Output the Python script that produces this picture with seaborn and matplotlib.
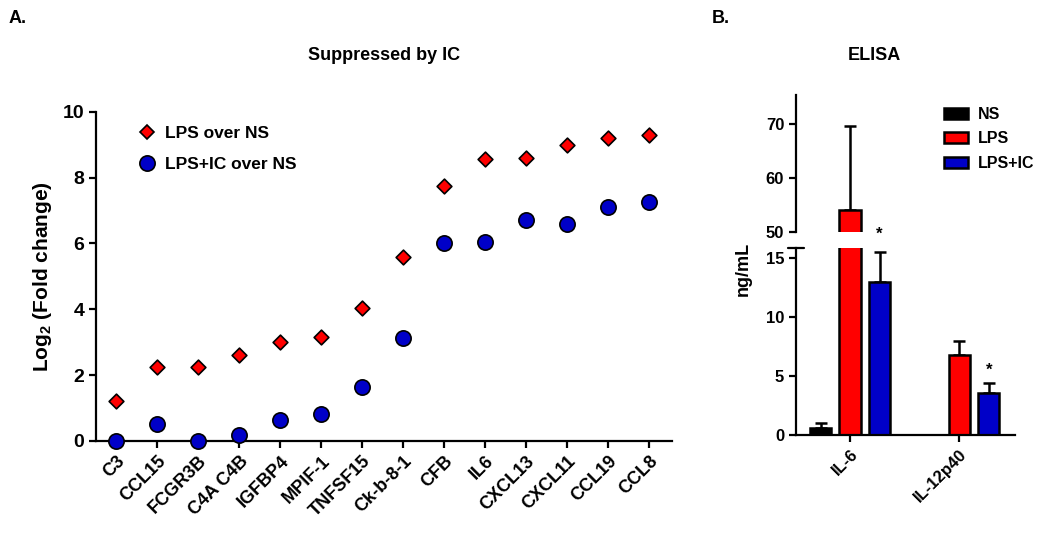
import numpy as np
import pandas as pd
import matplotlib
matplotlib.use('Agg')
import matplotlib.pyplot as plt
from matplotlib.lines import Line2D
from matplotlib.patches import Patch
import seaborn as sns

# -------------------------
# Datos
# -------------------------
genes = ['C3', 'CCL15', 'FCGR3B', 'C4A C4B', 'IGFBP4', 'MPIF-1', 'TNFSF15',
         'Ck-b-8-1', 'CFB', 'IL6', 'CXCL13', 'CXCL11', 'CCL19', 'CCL8']
lps_over_ns    = [1.2, 2.25, 2.25, 2.6, 3.0, 3.15, 4.05, 5.58, 7.75, 8.55, 8.58, 9.0, 9.2, 9.3]
lpsic_over_ns  = [0.0, 0.52, 0.0, 0.17, 0.62, 0.82, 1.65, 3.12, 6.02, 6.05, 6.72, 6.6, 7.12, 7.25]

cytokines   = ['IL-6', 'IL-12p40']
groups      = ['NS', 'LPS', 'LPS+IC']
elisa_ns    = [0.6, 0.0]
elisa_lps   = [54.0, 6.8]
elisa_lpsic = [13.0, 3.6]
sd_ns       = [0.4, 0.0]
sd_lps      = [15.7, 1.2]
sd_lpsic    = [2.5, 0.8]

RED  = '#FF0000'
BLUE = '#0000C8'

# -------------------------
# Estilo
# -------------------------
sns.set_style('ticks')
plt.rcParams['font.family'] = ['Liberation Sans', 'DejaVu Sans']
plt.rcParams['font.weight'] = 'bold'
plt.rcParams['axes.labelweight'] = 'bold'
plt.rcParams['text.color'] = 'black'
plt.rcParams['axes.labelcolor'] = 'black'
plt.rcParams['axes.edgecolor'] = 'black'
plt.rcParams['xtick.color'] = 'black'
plt.rcParams['ytick.color'] = 'black'
plt.rcParams['mathtext.fontset'] = 'custom'
plt.rcParams['mathtext.rm'] = 'Liberation Sans'
plt.rcParams['mathtext.bf'] = 'Liberation Sans:bold'

fig = plt.figure(figsize=(10.43, 5.37), dpi=100)

def style_axis(ax, fs):
    for s in ['top', 'right']:
        ax.spines[s].set_visible(False)
    for s in ['left', 'bottom']:
        ax.spines[s].set_linewidth(1.6)
        ax.spines[s].set_color('black')
    ax.tick_params(width=1.6, length=5, labelsize=fs, direction='out', colors='black')
    for lab in ax.get_xticklabels() + ax.get_yticklabels():
        lab.set_fontweight('bold')

# -------------------------
# Panel A
# -------------------------
df_a = pd.DataFrame({
    'gene': genes * 2,
    'value': lps_over_ns + lpsic_over_ns,
    'serie': ['LPS over NS'] * len(genes) + ['LPS+IC over NS'] * len(genes),
})

axA = fig.add_axes([0.092, 0.179, 0.552, 0.613])
sns.stripplot(data=df_a[df_a['serie'] == 'LPS+IC over NS'], x='gene', y='value',
              order=genes, jitter=False, marker='o', size=11, color=BLUE,
              edgecolor='black', linewidth=1.2, ax=axA, zorder=3)
sns.stripplot(data=df_a[df_a['serie'] == 'LPS over NS'], x='gene', y='value',
              order=genes, jitter=False, marker='D', size=7.5, color=RED,
              edgecolor='black', linewidth=1.2, ax=axA, zorder=4)
for c in axA.collections:
    c.set_clip_on(False)

axA.set_xlim(-0.5, 13.55)
axA.set_ylim(0, 10)
axA.set_yticks([0, 2, 4, 6, 8, 10])
axA.set_xlabel('')
axA.set_ylabel(r'Log$_\mathbf{2}$ (Fold change)', fontsize=15, fontweight='bold', labelpad=6)
style_axis(axA, 14)
axA.tick_params(axis='x', labelsize=13)
plt.setp(axA.get_xticklabels(), rotation=45, ha='right', rotation_mode='anchor')

hA = [Line2D([], [], marker='D', ls='none', markersize=7.5, markerfacecolor=RED,
             markeredgecolor='black', markeredgewidth=1.2),
      Line2D([], [], marker='o', ls='none', markersize=11, markerfacecolor=BLUE,
             markeredgecolor='black', markeredgewidth=1.2)]
axA.legend(hA, ['LPS over NS', 'LPS+IC over NS'], loc='upper left',
           bbox_to_anchor=(0.047, 1.005), frameon=False,
           handlelength=1.0, handletextpad=0.5, labelspacing=0.95,
           prop={'weight': 'bold', 'size': 12.5})

fig.text(0.368, 0.897, 'Suppressed by IC', ha='center', va='center',
         fontsize=13, fontweight='bold')
fig.text(0.008, 0.965, 'A.', ha='left', va='center', fontsize=13, fontweight='bold')

# -------------------------
# Panel B (eje cortado)
# -------------------------
df_b = pd.DataFrame({
    'cytokine': cytokines * 3,
    'group': [g for g in groups for _ in cytokines],
    'value': elisa_ns + elisa_lps + elisa_lpsic,
})
sd_all = [sd_ns, sd_lps, sd_lpsic]
pal = {'NS': 'black', 'LPS': RED, 'LPS+IC': BLUE}

axB = fig.add_axes([0.7632, 0.19, 0.21, 0.348])
axT = fig.add_axes([0.7632, 0.568, 0.21, 0.255])
axT.patch.set_visible(False)

for ax in [axB, axT]:
    sns.barplot(data=df_b, x='cytokine', y='value', hue='group', order=cytokines,
                hue_order=groups, palette=pal, saturation=1, errorbar=None,
                width=0.81, gap=0.28, edgecolor='black', linewidth=1.8,
                legend=False, ax=ax, zorder=2)
    for cont, sd in zip(ax.containers, sd_all):
        xs = [p.get_x() + p.get_width() / 2 for p in cont.patches]
        ys = [p.get_height() for p in cont.patches]
        ax.errorbar(xs, ys, yerr=[np.zeros(len(sd)), sd], fmt='none',
                    ecolor='black', elinewidth=1.8, capsize=4, capthick=1.8, zorder=1)
    ax.set_xlim(-0.495, 1.51)
    ax.set_xlabel('')
    ax.set_ylabel('')

axB.set_ylim(0, 15.85)
axB.set_yticks([0, 5, 10, 15])
style_axis(axB, 12)
axB.tick_params(axis='x', labelsize=12)
plt.setp(axB.get_xticklabels(), rotation=45, ha='right', rotation_mode='anchor')
axB.plot([-0.035, 0.035], [1, 1], transform=axB.transAxes, color='black',
         lw=1.6, clip_on=False)

axT.set_ylim(50, 75.4)
axT.set_yticks([50, 60, 70])
style_axis(axT, 12)
axT.spines['bottom'].set_visible(False)
axT.set_xticks([])

# asteriscos
ic_bars = axB.containers[2].patches
axB.text(ic_bars[0].get_x() + ic_bars[0].get_width() / 2, 17.0, '*',
         ha='center', va='center', fontsize=12, fontweight='bold', zorder=10, clip_on=False)
axB.text(ic_bars[1].get_x() + ic_bars[1].get_width() / 2, 5.5, '*',
         ha='center', va='center', fontsize=12, fontweight='bold')

fig.text(0.713, 0.50, 'ng/mL', rotation=90, ha='center', va='center',
         fontsize=13, fontweight='bold')

hB = [Patch(facecolor=pal[g], edgecolor='black', linewidth=1.8) for g in groups]
axT.legend(hB, groups, loc='upper left', bbox_to_anchor=(0.61, 1.02), frameon=False,
           handlelength=1.5, handleheight=0.7, handletextpad=0.6, labelspacing=0.6,
           prop={'weight': 'bold', 'size': 11.5})

fig.text(0.838, 0.897, 'ELISA', ha='center', va='center', fontsize=13, fontweight='bold')
fig.text(0.682, 0.965, 'B.', ha='left', va='center', fontsize=13, fontweight='bold')

plt.savefig('out.png', dpi=100)
plt.close()
print('✓ out.png guardado')
